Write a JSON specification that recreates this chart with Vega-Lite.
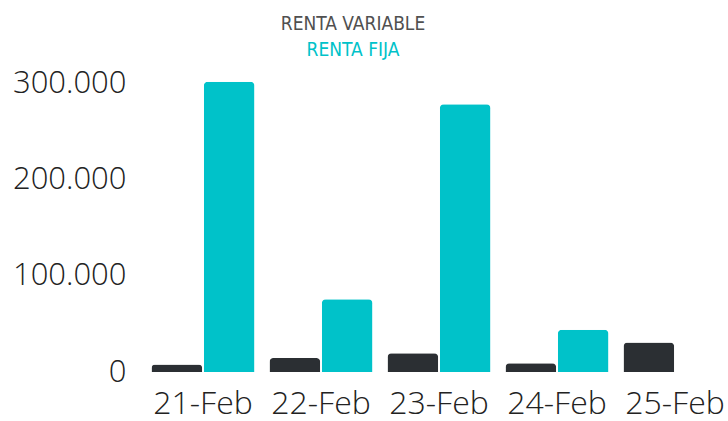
{
  "$schema": "https://vega.github.io/schema/vega-lite/v6.json",
  "width": 584,
  "height": 298,
  "autosize": {"type": "none"},
  "padding": {"left": 144, "top": 74, "right": 0, "bottom": 49},
  "background": "white",
  "config": {"view": {"stroke": null}},
  "data": {"values": [
    {"fecha": "21-Feb", "serie": "RENTA VARIABLE", "valor": 7700},
    {"fecha": "21-Feb", "serie": "RENTA FIJA", "valor": 302000},
    {"fecha": "22-Feb", "serie": "RENTA VARIABLE", "valor": 14600},
    {"fecha": "22-Feb", "serie": "RENTA FIJA", "valor": 75700},
    {"fecha": "23-Feb", "serie": "RENTA VARIABLE", "valor": 19500},
    {"fecha": "23-Feb", "serie": "RENTA FIJA", "valor": 278500},
    {"fecha": "24-Feb", "serie": "RENTA VARIABLE", "valor": 9000},
    {"fecha": "24-Feb", "serie": "RENTA FIJA", "valor": 44000},
    {"fecha": "25-Feb", "serie": "RENTA VARIABLE", "valor": 30600}
  ]},
  "mark": {"type": "bar", "cornerRadiusTopLeft": 4, "cornerRadiusTopRight": 4},
  "encoding": {
    "x": {
      "field": "fecha", "type": "nominal", "sort": null,
      "scale": {"range": [0, 590], "paddingInner": 0.127, "paddingOuter": 0.0635},
      "axis": {"title": null, "domain": false, "ticks": false, "labelAngle": 0,
        "labelFont": "Open Sans", "labelFontWeight": 300, "labelFontSize": 32,
        "labelColor": "#222222", "labelPadding": 16, "labelLimit": 0}
    },
    "xOffset": {
      "field": "serie", "type": "nominal",
      "scale": {"domain": ["RENTA VARIABLE", "RENTA FIJA"], "paddingInner": 0.03, "paddingOuter": 0}
    },
    "y": {
      "field": "valor", "type": "quantitative",
      "scale": {"domain": [0, 310000], "nice": false},
      "axis": {"title": null, "domain": false, "ticks": false, "grid": false,
        "values": [0, 100000, 200000, 300000],
        "labelExpr": "replace(format(datum.value, ','), ',', '.')",
        "labelFont": "Open Sans", "labelFontWeight": 300, "labelFontSize": 31,
        "labelColor": "#222222", "labelPadding": 18, "labelLimit": 0}
    },
    "color": {
      "field": "serie", "type": "nominal",
      "scale": {"domain": ["RENTA VARIABLE", "RENTA FIJA"], "range": ["#2b2f33", "#00c2c9"]},
      "legend": {
        "title": null, "orient": "none", "legendX": 190, "legendY": -60,
        "symbolSize": 0, "symbolStrokeWidth": 0, "labelOffset": 0,
        "labelAlign": "center", "labelFont": "DejaVu Sans Condensed",
        "labelFontSize": 19, "rowPadding": 6, "labelLimit": 0,
        "encode": {"labels": {"update": {"fill": {"signal": "datum.value === 'RENTA FIJA' ? '#00c2c9' : '#505050'"}}}}
      }
    }
  }
}
